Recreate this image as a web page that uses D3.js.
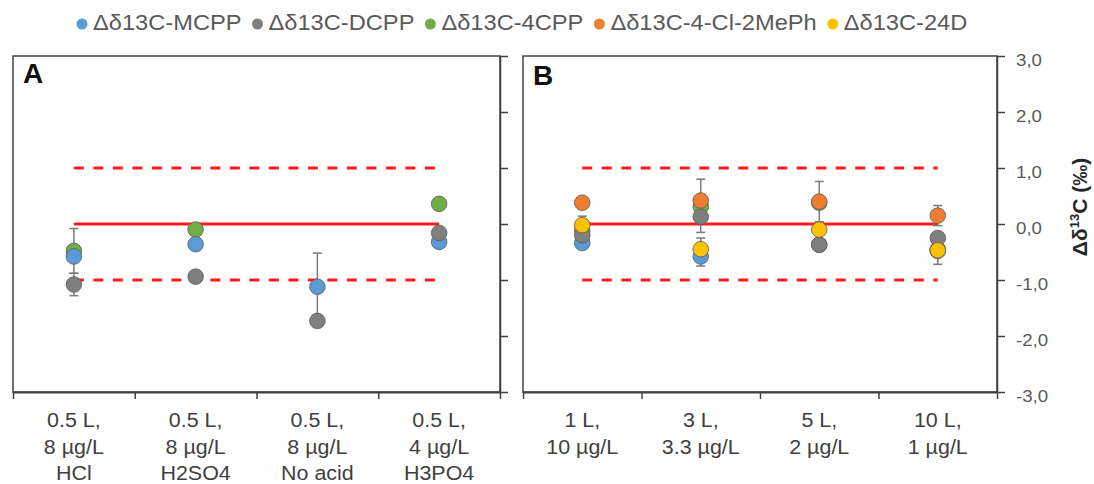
<!DOCTYPE html>
<html>
<head>
<meta charset="utf-8">
<script src="https://cdn.jsdelivr.net/npm/d3@7"></script>
<style>
body{margin:0;background:#fff;}
svg{display:block;font-family:"Liberation Sans",Arial,sans-serif;}
</style>
</head>
<body>
<div id="chart"></div>
<script>
const width=1094;
const height=484;

const seriesNames=["Δδ13C-MCPP","Δδ13C-DCPP","Δδ13C-4CPP","Δδ13C-4-Cl-2MePh","Δδ13C-24D"];
const seriesColors=["#5b9bd5","#7f7f7f","#70ad47","#ed7d31","#ffc000"];
// drawing order (later = on top)
const drawOrder=[2,0,1,3,4];

const catsA=[["0.5 L,","8 µg/L","HCl"],["0.5 L,","8 µg/L","H2SO4"],["0.5 L,","8 µg/L","No acid"],["0.5 L,","4 µg/L","H3PO4"]];
const catsB=[["1 L,","10 µg/L"],["3 L,","3.3 µg/L"],["5 L,","2 µg/L"],["10 L,","1 µg/L"]];
const yTicks=[3,2,1,0,-1,-2,-3];

// panel A, null = no value
const aMCPP=[-0.58,-0.36,-1.12,-0.32];
const aDCPP=[-1.08,-0.94,-1.73,-0.16];
const a4CPP=[-0.48,-0.10,null,0.36];
const aClMePh=[null,null,null,null];
const a24D=[null,null,null,null];
const aErrMCPP=[0,0,0.6,0];
const aErrDCPP=[0.2,0,0,0];
const aErr4CPP=[0.4,0,0,0];

// panel B
const bMCPP=[-0.34,-0.58,-0.37,-0.48];
const bDCPP=[-0.2,0.13,-0.37,-0.25];
const b4CPP=[-0.12,0.31,0.38,-0.45];
const bClMePh=[0.38,0.42,0.40,0.15];
const b24D=[-0.02,-0.45,-0.10,-0.47];
const bErrMCPP=[0,0.17,0,0];
const bErrDCPP=[0,0.28,0,0];
const bErr4CPP=[0,0,0,0];
const bErrClMePh=[0,0.38,0.36,0.18];
const bErr24D=[0.16,0.2,0,0.25];

const noErr=[0,0,0,0];
const panelA={label:"A",x0:13,x1:500,cats:catsA,labels:false,
    vals:[aMCPP,aDCPP,a4CPP,aClMePh,a24D],errs:[aErrMCPP,aErrDCPP,aErr4CPP,noErr,noErr]};
const panelB={label:"B",x0:523,x1:997,cats:catsB,labels:true,
    vals:[bMCPP,bDCPP,b4CPP,bClMePh,b24D],errs:[bErrMCPP,bErrDCPP,bErr4CPP,bErrClMePh,bErr24D]};

const plotTop=56,plotBottom=392;
const sx=1.1; // source text is slightly stretched horizontally
const yscale=d3.scaleLinear().domain([-3,3]).range([plotBottom,plotTop]);
const fmt=d3.formatLocale({decimal:",",thousands:".",grouping:[3],currency:["","€"],minus:"-"}).format(".1f");

const svg=d3.select("#chart").append("svg").attr("width",width).attr("height",height);

// legend
let lx=77;
seriesNames.forEach((name,i)=>{
    const item=svg.append("g").attr("transform",`translate(${lx},0)`);
    item.append("circle").attr("cx",5).attr("cy",24).attr("r",5.5).attr("fill",seriesColors[i]);
    const t=item.append("text")
        .attr("transform",`translate(16,29.5) scale(${sx},1)`)
        .attr("font-size",21.5).attr("fill","#595959").text(name);
    lx+=16+t.node().getComputedTextLength()*sx+11;
});

function drawpanel(p){
    const g=svg.append("g");
    const n=p.cats.length;
    const xscale=d3.scaleLinear().domain([0,n]).range([p.x0,p.x1]);
    const cx=i=>xscale(i+0.5);

    g.append("rect").attr("x",p.x0).attr("y",plotTop).attr("width",p.x1-p.x0).attr("height",plotBottom-plotTop)
        .attr("fill","none").attr("stroke","#404040").attr("stroke-width",1.5);

    const ax=g.append("g").attr("transform",`translate(0,${plotBottom})`)
        .call(d3.axisBottom(xscale).tickValues(d3.range(n+1)).tickFormat("").tickSize(7).tickSizeOuter(0));
    ax.select(".domain").attr("stroke","#404040").attr("stroke-width",2);
    ax.selectAll(".tick line").attr("stroke","#404040").attr("stroke-width",1.5);

    const ay=g.append("g").attr("transform",`translate(${p.x1},0)`)
        .call(d3.axisRight(yscale).tickValues(yTicks).tickSize(8).tickSizeOuter(0).tickFormat(p.labels?fmt:""));
    ay.select(".domain").attr("stroke","#404040").attr("stroke-width",1.5);
    ay.selectAll(".tick line").attr("stroke","#404040").attr("stroke-width",1.5);
    ay.selectAll(".tick text").attr("x",19/sx).attr("dy","0.53em").attr("transform",`scale(${sx},1)`)
        .attr("font-size",17).attr("fill","#595959");

    // category labels
    p.cats.forEach((lines,i)=>{
        lines.forEach((s,j)=>{
            g.append("text").attr("transform",`translate(${cx(i)},${427+j*26.5}) scale(${sx},1)`)
                .attr("text-anchor","middle").attr("font-size",19.5).attr("fill","#404040").text(s);
        });
    });

    g.append("text").attr("x",p.label==="A"?23:533).attr("y",p.label==="A"?83:85)
        .attr("font-size",28).attr("font-weight","bold").attr("fill","#111").text(p.label);

    // reference lines
    const ref=[{v:1,dash:"10,9.5"},{v:0,dash:null},{v:-1,dash:"10,9.5"}];
    g.selectAll(".ref").data(ref).enter().append("line")
        .attr("x1",cx(0)).attr("x2",cx(n-1))
        .attr("y1",d=>yscale(d.v)).attr("y2",d=>yscale(d.v))
        .attr("stroke","#ff1a1a").attr("stroke-width",3)
        .attr("stroke-dasharray",d=>d.dash);

    // error bars
    drawOrder.forEach(s=>{
        p.vals[s].forEach((v,i)=>{
            const e=p.errs[s][i];
            if(v===null||!e) return;
            const x=cx(i);
            g.append("line").attr("x1",x).attr("x2",x).attr("y1",yscale(v+e)).attr("y2",yscale(v-e))
                .attr("stroke","#7a7a7a").attr("stroke-width",1.5);
            [v+e,v-e].forEach(w=>{
                g.append("line").attr("x1",x-4.5).attr("x2",x+4.5).attr("y1",yscale(w)).attr("y2",yscale(w))
                    .attr("stroke","#7a7a7a").attr("stroke-width",1.5);
            });
        });
    });

    // markers
    drawOrder.forEach(s=>{
        g.selectAll(null).data(p.vals[s].map((v,i)=>({v,i})).filter(d=>d.v!==null))
            .enter().append("circle")
            .attr("cx",d=>cx(d.i)).attr("cy",d=>yscale(d.v)).attr("r",7.8)
            .attr("fill",seriesColors[s]).attr("stroke","#5a5a5a").attr("stroke-width",0.8);
    });
}

drawpanel(panelA);
drawpanel(panelB);

// y axis title
const title=svg.append("text").attr("transform","translate(1087,207) rotate(-90)")
    .attr("text-anchor","middle").attr("font-size",21).attr("font-weight","bold").attr("fill","#262626");
title.append("tspan").text("Δδ");
title.append("tspan").attr("font-size",13).attr("dy",-8).text("13");
title.append("tspan").attr("dy",8).text("C (‰)");
</script>
</body>
</html>
